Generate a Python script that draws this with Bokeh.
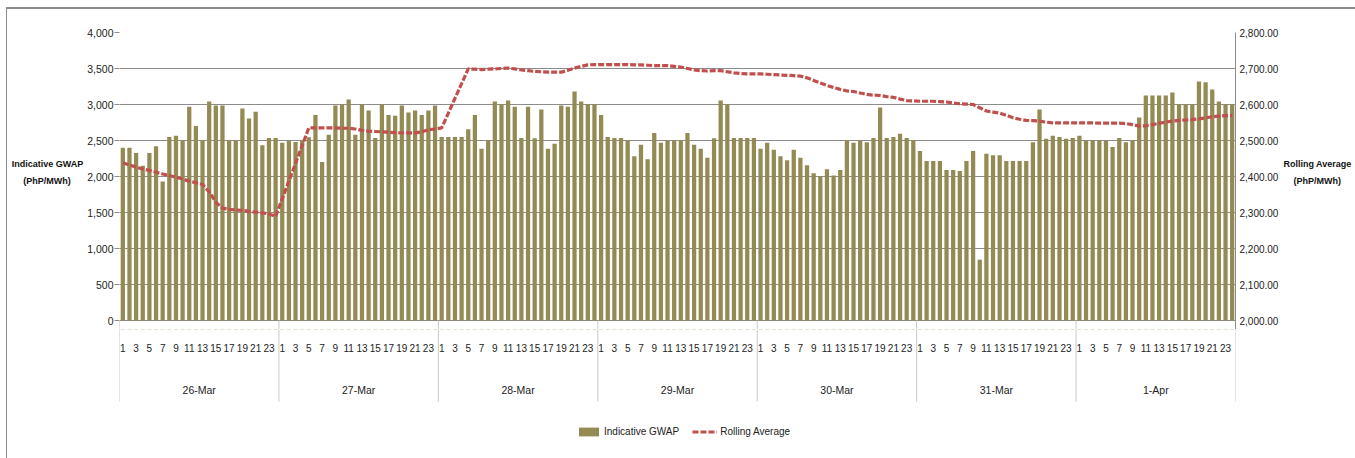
from bokeh.plotting import figure
from bokeh.layouts import column
from bokeh.models import (Range1d, LinearAxis, FixedTicker, NumeralTickFormatter,
                          Legend, LegendItem)
from bokeh.core.properties import value
from bokeh.embed import file_html
from bokeh.resources import INLINE

# ---------------- data ----------------
days = ["26-Mar", "27-Mar", "28-Mar", "29-Mar", "30-Mar", "31-Mar", "1-Apr"]
hours = list(range(1, 25))

gwap_26mar = [2400, 2400, 2325, 2150, 2325, 2420, 1930, 2550, 2565, 2500, 2970, 2700,
              2500, 3040, 2985, 2985, 2500, 2500, 2945, 2805, 2900, 2435, 2535, 2535]
gwap_27mar = [2470, 2500, 2480, 2500, 2545, 2855, 2200, 2580, 2985, 3005, 3070, 2580,
              3005, 2915, 2535, 3005, 2855, 2845, 2985, 2890, 2915, 2855, 2915, 2985]
gwap_28mar = [2550, 2550, 2550, 2550, 2655, 2855, 2385, 2500, 3040, 3005, 3055, 2970,
              2535, 2970, 2530, 2930, 2385, 2455, 2985, 2970, 3180, 3040, 3005, 3005]
gwap_29mar = [2855, 2550, 2535, 2535, 2500, 2280, 2440, 2240, 2605, 2470, 2500, 2500,
              2500, 2605, 2440, 2385, 2260, 2530, 3055, 3005, 2535, 2535, 2535, 2535]
gwap_30mar = [2385, 2470, 2370, 2280, 2225, 2370, 2260, 2155, 2045, 2000, 2100, 2015,
              2090, 2500, 2470, 2500, 2475, 2535, 2960, 2535, 2550, 2595, 2535, 2500]
gwap_31mar = [2355, 2215, 2215, 2215, 2090, 2090, 2075, 2215, 2355, 845, 2315, 2295,
              2295, 2215, 2215, 2215, 2215, 2475, 2930, 2525, 2565, 2550, 2525, 2535]
gwap_01apr = [2565, 2500, 2500, 2500, 2500, 2410, 2535, 2475, 2500, 2820, 3125, 3125,
              3125, 3125, 3165, 3005, 3005, 3005, 3320, 3310, 3210, 3040, 3005, 3005]

ravg_26mar = [2438, 2432, 2426, 2421, 2417, 2412, 2407, 2403, 2398, 2393, 2387, 2383,
              2378, 2357, 2329, 2312, 2309, 2307, 2306, 2303, 2301, 2299, 2296, 2289]
ravg_27mar = [None, None, None, None, 2535, 2535, 2535, 2535, 2535, 2534, 2534, 2532,
              2528, 2526, 2525, 2524, 2523, 2522, 2521, 2521, 2521, 2524, 2530, 2532]
ravg_28mar = [2535, None, None, None, 2699, 2698, 2697, 2698, 2699, 2700, 2701, 2699,
              2696, 2694, 2692, 2691, 2690, 2690, 2690, 2695, 2701, 2706, 2710, 2711]
ravg_29mar = [2711, 2711, 2711, 2711, 2711, 2710, 2710, 2709, 2708, 2708, 2708, 2706,
              2704, 2700, 2696, 2694, 2693, 2694, 2694, 2691, 2688, 2686, 2685, 2685]
ravg_30mar = [2685, 2684, 2683, 2682, 2681, 2680, 2679, 2674, 2667, 2660, 2653, 2647,
              2642, 2638, 2636, 2632, 2628, 2626, 2625, 2622, 2620, 2615, 2611, 2610]
ravg_31mar = [2609, 2609, 2609, 2608, 2607, 2604, 2602, 2601, 2600, 2591, 2582, 2579,
              2576, 2570, 2563, 2559, 2556, 2555, 2554, 2551, 2549, 2549, 2549, 2549]
ravg_01apr = [2549, 2549, 2549, 2548, 2548, 2548, 2548, 2547, 2544, 2540, 2541, 2544,
              2548, 2551, 2554, 2556, 2557, 2558, 2560, 2563, 2566, 2568, 2569, 2569]

left_ticks = [0, 500, 1000, 1500, 2000, 2500, 3000, 3500, 4000]
right_ticks = [2000, 2100, 2200, 2300, 2400, 2500, 2600, 2700, 2800]

# ---------------- assemble ----------------
gwap = gwap_26mar + gwap_27mar + gwap_28mar + gwap_29mar + gwap_30mar + gwap_31mar + gwap_01apr
ravg = ravg_26mar + ravg_27mar + ravg_28mar + ravg_29mar + ravg_30mar + ravg_31mar + ravg_01apr
n = len(days) * len(hours)
xs = list(range(n))
line_x = [i for i in xs if ravg[i] is not None]
line_y = [ravg[i] for i in xs if ravg[i] is not None]

FONT = "Liberation Sans"
GRID = "#8C8C8C"
SEP = "#C8C8C8"
TXT = "#222222"
BAR = "#948A54"
RED = "#C0504D"
NB = "\u00a0"

# ---------------- geometry (pixels) ----------------
W = 1348
TOP, LEFT, RIGHT = 23, 112, 120
PLOT_H = 288                       # pixels spanned by 0..4000
EXT = 9                            # plot area continues a little below zero
H1 = TOP + PLOT_H + EXT            # main chart
H2 = 449 - H1                      # category rows + legend
u = 4000 / PLOT_H
ur = 800 / PLOT_H
HOUR_Y, DAY_Y, SEP_Y = -27, -69, -81   # pixels below the axis line

xr = Range1d(-0.5, n - 0.5)
day_bounds = [k * 24 - 0.5 for k in range(len(days) + 1)]

# ---------------- main chart ----------------
p = figure(width=W, height=H1, output_backend="svg", toolbar_location=None,
           x_range=xr, y_range=Range1d(-EXT * u, 4000), x_axis_location=None,
           min_border_left=LEFT, min_border_right=RIGHT, min_border_top=TOP,
           min_border_bottom=0)
p.outline_line_color = None
p.background_fill_color = "white"
p.border_fill_color = "white"
p.xgrid.grid_line_color = None
p.ygrid.ticker = FixedTicker(ticks=left_ticks)
p.ygrid.grid_line_color = GRID
p.ygrid.grid_line_width = 1
p.extra_y_ranges = {"ra": Range1d(2000 - EXT * ur, 2800)}

p.segment(x0=day_bounds, y0=[0] * len(day_bounds), x1=day_bounds,
          y1=[-EXT * u] * len(day_bounds), line_color=SEP, line_width=1)
bars = p.vbar(x=xs, top=gwap, bottom=0, width=0.64, fill_color=BAR, line_color=None)
line = p.line(line_x, line_y, y_range_name="ra", line_color=RED,
              line_width=3.2, line_dash="6 2")

ly = p.yaxis[0]
ly.ticker = FixedTicker(ticks=left_ticks)
ly.formatter = NumeralTickFormatter(format="0,0")
ly.axis_line_color = None
ly.major_tick_out = 5
ly.major_tick_in = 0
ly.major_tick_line_color = GRID
ly.minor_tick_line_color = None
ly.major_label_standoff = 1
ly.major_label_text_font = FONT
ly.major_label_text_font_size = "10.5px"
ly.major_label_text_color = TXT
ly.axis_label = "Indicative GWAP\n(PhP/MWh)" + NB * 5 + "\n" + NB
ly.axis_label_orientation = "horizontal"
ly.axis_label_text_font = FONT
ly.axis_label_text_font_style = "bold"
ly.axis_label_text_font_size = "9px"
ly.axis_label_text_line_height = 1.7
ly.axis_label_text_color = "#111111"
ly.axis_label_standoff = 1

ry = LinearAxis(y_range_name="ra", ticker=FixedTicker(ticks=right_ticks),
                formatter=NumeralTickFormatter(format="0,0.00"))
ry.axis_line_color = GRID
ry.major_tick_out = 0
ry.major_tick_in = 0
ry.minor_tick_line_color = None
ry.major_label_standoff = 4
ry.major_label_text_font = FONT
ry.major_label_text_font_size = "10px"
ry.major_label_text_color = TXT
ry.axis_label = "Rolling Average\n" + NB * 4 + "(PhP/MWh)\n" + NB
ry.axis_label_orientation = "horizontal"
ry.axis_label_text_font = FONT
ry.axis_label_text_font_style = "bold"
ry.axis_label_text_font_size = "9px"
ry.axis_label_text_line_height = 1.7
ry.axis_label_text_color = "#111111"
ry.axis_label_standoff = 2
p.add_layout(ry, "right")

# ---------------- category rows + legend ----------------
q = figure(width=W, height=H2, output_backend="svg", toolbar_location=None,
           x_range=xr, y_range=Range1d(-(H2 + EXT), -EXT), x_axis_location=None,
           y_axis_location=None, min_border_left=LEFT, min_border_right=RIGHT,
           min_border_top=0, min_border_bottom=0)
q.outline_line_color = None
q.grid.grid_line_color = None
q.background_fill_color = "white"
q.border_fill_color = "white"

hour_ticks = [i for i in xs if hours[i % 24] % 2 == 1]
q.text(x=hour_ticks, y=[HOUR_Y] * len(hour_ticks),
       text=[str(hours[i % 24]) for i in hour_ticks],
       text_align="center", text_baseline="middle", text_font=value(FONT),
       text_font_size="10px", text_color=TXT)
day_centers = [k * 24 + 11.5 for k in range(len(days))]
q.text(x=day_centers, y=[DAY_Y] * len(days), text=days,
       text_align="center", text_baseline="middle", text_font=value(FONT),
       text_font_size="10.5px", text_color=TXT)
q.segment(x0=day_bounds, y0=[-EXT] * len(day_bounds), x1=day_bounds,
          y1=[SEP_Y] * len(day_bounds), line_color=SEP, line_width=1)

# legend swatches: same series styles; the marks lie far above this panel's range
leg_bar = q.vbar(x=xs, top=gwap, bottom=gwap, width=0.64, fill_color=BAR,
                 line_color=None)
leg_line = q.line(line_x, line_y, line_color=RED, line_width=3.2, line_dash="6 2")
legend = Legend(items=[LegendItem(label="Indicative GWAP", renderers=[leg_bar]),
                       LegendItem(label="Rolling Average", renderers=[leg_line])],
                orientation="horizontal", location=(457, 21),
                glyph_width=25, glyph_height=11, label_height=11,
                label_standoff=3, spacing=13,
                padding=0, margin=0, border_line_color=None,
                background_fill_alpha=0, label_text_font=FONT,
                label_text_font_size="10px", label_text_color=TXT)
q.add_layout(legend, "center")

layout = column(p, q, spacing=0,
                styles={"margin-left": "6px", "margin-top": "7px",
                        "border-left": "1px solid #8C8C8C",
                        "border-top": "2px solid #8C8C8C"})

open("out.html", "w").write(file_html(layout, INLINE))
